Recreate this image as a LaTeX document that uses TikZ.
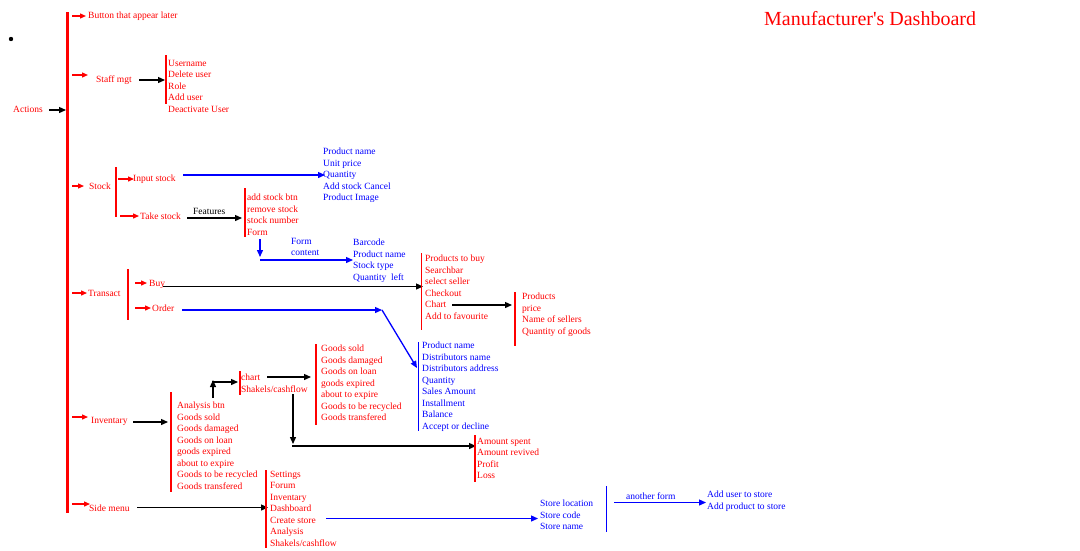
\documentclass[tikz,border=0pt]{standalone}
\usepackage{fontspec}
\setmainfont{Liberation Serif}
\newfontfamily\titlefont{Liberation Serif}
\usetikzlibrary{arrows.meta}
\definecolor{rd}{RGB}{255,0,0}
\definecolor{bl}{RGB}{0,0,255}
\tikzset{
 txt/.style={inner sep=0pt, font=\fontsize{9.5}{11.5}\selectfont, align=left},
 rl/.style={txt, text=rd, anchor=base west},
 bll/.style={txt, text=bl, anchor=base west},
 rblock/.style={txt, text=rd, anchor=north west},
 bblock/.style={txt, text=bl, anchor=north west},
 rbar/.style={draw=rd, line width=1.5pt},
 bbar/.style={draw=bl, line width=1.5pt},
 karr/.style={draw=black, line width=1.3pt, -{Triangle[length=7pt,width=6pt]}},
 rarr/.style={draw=rd, line width=1.3pt, -{Triangle[length=6pt,width=5pt]}},
 barr/.style={draw=bl, line width=1.3pt, -{Triangle[length=7pt,width=6pt]}},
}
\begin{document}
\begin{tikzpicture}[x=1pt,y=-1pt]
\path[use as bounding box, fill=white] (0,0) rectangle (1080,550);

% title
\node[text=rd, font=\titlefont\fontsize{20}{24}\selectfont, inner sep=0pt, anchor=base west] (title) at (764,25) {Manufacturer's Dashboard};
\fill (11,39) circle (2.2);

% main bar
\coordinate (mainT) at (67,12); \coordinate (mainB) at (67,513);
\draw[draw=rd, line width=3pt] (mainT) -- (mainB);

% Actions
\node[rl] (actions) at (13,112.5) {Actions};
\coordinate (actE) at (66,110);
\draw[karr] (49,110) coordinate (actS) -- (actE);

% Button
\coordinate (b1s) at (72,16); \coordinate (b1e) at (86,16);
\draw[rarr] (b1s) -- (b1e);
\node[rl] (button) at (88,18.5) {Button that appear later};

% Staff mgt
\coordinate (s1s) at (72,75); \coordinate (s1e) at (88,75);
\draw[rarr] (s1s) -- (s1e);
\node[rl] (staff) at (96,82.5) {Staff mgt};
\coordinate (st1) at (139,80); \coordinate (st2) at (165,80);
\draw[karr] (st1) -- (st2);
\coordinate (sbT) at (166,55); \coordinate (sbB) at (166,104);
\draw[rbar] (sbT) -- (sbB);
\node[rblock] (stafflist) at (168,60) {Username\\Delete user\\Role\\Add user\\Deactivate User};

% Stock
\coordinate (k1s) at (72,186); \coordinate (k1e) at (84,186);
\draw[rarr] (k1s) -- (k1e);
\node[rl] (stock) at (89,189.5) {Stock};
\coordinate (kbT) at (116,167); \coordinate (kbB) at (116,217);
\draw[rbar] (kbT) -- (kbB);
\coordinate (in1) at (118,179); \coordinate (in2) at (134,179);
\draw[rarr] (in1) -- (in2);
\node[rl] (input) at (133,181.5) {Input stock};
\coordinate (tk1) at (120,216); \coordinate (tk2) at (139,216);
\draw[rarr] (tk1) -- (tk2);
\node[rl] (take) at (140,219.5) {Take stock};
\coordinate (ib1) at (183,175); \coordinate (ib2) at (325,175);
\draw[barr] (ib1) -- (ib2);
\node[bblock] (inputlist) at (323,148) {Product name\\Unit price\\Quantity\\Add stock Cancel\\Product Image};
\coordinate (f1) at (187,218); \coordinate (f2) at (242,218);
\draw[karr] (f1) -- (f2);
\node[anchor=base west, inner sep=0pt, font=\fontsize{9.5}{11.5}\selectfont] (features) at (193,214.5) {Features};
\coordinate (fbT) at (245,188); \coordinate (fbB) at (245,237);
\draw[rbar] (fbT) -- (fbB);
\node[rblock] (featlist) at (247,194) {add stock btn\\remove stock\\stock number\\Form};
\coordinate (d1) at (260,239); \coordinate (d2) at (260,257);
\draw[barr] (d1) -- (d2);
\coordinate (fc1) at (260,260); \coordinate (fc2) at (353,260);
\draw[barr] (fc1) -- (fc2);
\node[bblock] (formcontent) at (291,238) {Form\\content};
\node[bblock] (formlist) at (353,239) {Barcode\\Product name\\Stock type\\Quantity~ left};

% Transact
\coordinate (t1s) at (72,293); \coordinate (t1e) at (87,293);
\draw[rarr] (t1s) -- (t1e);
\node[rl] (transact) at (88,296.5) {Transact};
\coordinate (tbT) at (128,269); \coordinate (tbB) at (128,320);
\draw[rbar] (tbT) -- (tbB);
\coordinate (by1) at (135,283); \coordinate (by2) at (147,283);
\draw[rarr] (by1) -- (by2);
\node[rl] (buy) at (149,286.5) {Buy};
\coordinate (or1) at (135,308); \coordinate (or2) at (151,308);
\draw[rarr] (or1) -- (or2);
\node[rl] (order) at (152,311.5) {Order};
\coordinate (bk1) at (163,286.5); \coordinate (bk2) at (423,286.5);
\draw[karr] (bk1) -- (bk2);
\coordinate (ob1) at (182,310); \coordinate (ob2) at (382,310); \coordinate (ob3) at (417,368);
\draw[barr] (ob1) -- (ob2);
\draw[barr] (ob2) -- (ob3);
\coordinate (bbT) at (421.5,253); \coordinate (bbB) at (421.5,330);
\draw[rbar] (bbT) -- (bbB);
\node[rblock] (buylist) at (425,255) {Products to buy\\Searchbar\\select seller\\Checkout\\Chart\\Add to favourite};
\coordinate (ch1) at (452,305); \coordinate (ch2) at (512,305);
\draw[karr] (ch1) -- (ch2);
\coordinate (cbT) at (515,292); \coordinate (cbB) at (515,346);
\draw[rbar] (cbT) -- (cbB);
\node[rblock] (chartlist) at (522,293) {Products\\price\\Name of sellers\\Quantity of goods};
\coordinate (obT) at (418.5,342); \coordinate (obB) at (418.5,431);
\draw[bbar] (obT) -- (obB);
\node[bblock] (orderlist) at (422,342) {Product name\\Distributors name\\Distributors address\\Quantity\\Sales Amount\\Installment\\Balance\\Accept or decline};

% Inventary
\coordinate (v1s) at (72,417); \coordinate (v1e) at (88,417);
\draw[rarr] (v1s) -- (v1e);
\node[rl] (inventary) at (91,423.5) {Inventary};
\coordinate (va1) at (133,422); \coordinate (va2) at (168,422);
\draw[karr] (va1) -- (va2);
\coordinate (vbT) at (171,392); \coordinate (vbB) at (171,492);
\draw[rbar] (vbT) -- (vbB);
\node[rblock] (invlist) at (177,402) {Analysis btn\\Goods sold\\Goods damaged\\Goods on loan\\goods expired\\about to expire\\Goods to be recycled\\Goods transfered};
\coordinate (up1) at (213,398); \coordinate (up2) at (213,380);
\draw[karr] (up1) -- (up2);
\coordinate (rt1) at (212.4,382); \coordinate (rt2) at (238,382);
\draw[karr] (rt1) -- (rt2);
\coordinate (chbT) at (240,371); \coordinate (chbB) at (240,395);
\draw[rbar] (chbT) -- (chbB);
\node[rblock] (chartcash) at (241,374) {chart\\Shakels/cashflow};
\coordinate (g1) at (267,377); \coordinate (g2) at (311,377);
\draw[karr] (g1) -- (g2);
\coordinate (gbT) at (316,344); \coordinate (gbB) at (316,425);
\draw[rbar] (gbT) -- (gbB);
\node[rblock] (goodslist) at (321,345) {Goods sold\\Goods damaged\\Goods on loan\\goods expired\\about to expire\\Goods to be recycled\\Goods transfered};
\coordinate (dn1) at (293,394); \coordinate (dn2) at (293,444);
\draw[karr] (dn1) -- (dn2);
\coordinate (am1) at (292.4,446); \coordinate (am2) at (476,446);
\draw[karr] (am1) -- (am2);
\coordinate (abT) at (475,435); \coordinate (abB) at (475,482);
\draw[rbar] (abT) -- (abB);
\node[rblock] (amountlist) at (477,438) {Amount spent\\Amount revived\\Profit\\Loss};

% Side menu
\coordinate (m1s) at (72,504); \coordinate (m1e) at (90,504);
\draw[rarr] (m1s) -- (m1e);
\node[rl] (side) at (89,511.5) {Side menu};
\coordinate (sm1) at (137,507.5); \coordinate (sm2) at (268,507.5);
\draw[karr] (sm1) -- (sm2);
\coordinate (smbT) at (266,470); \coordinate (smbB) at (266,548);
\draw[rbar] (smbT) -- (smbB);
\node[rblock] (sidelist) at (270,471) {Settings\\Forum\\Inventary\\Dashboard\\Create store\\Analysis\\Shakels/cashflow};
\coordinate (cs1) at (326,518.5); \coordinate (cs2) at (538,518.5);
\draw[barr] (cs1) -- (cs2);
\node[bblock] (storelist) at (540,500) {Store location\\Store code\\Store name};
\coordinate (stbT) at (606.5,486); \coordinate (stbB) at (606.5,532);
\draw[bbar] (stbT) -- (stbB);
\coordinate (af1) at (614,502.5); \coordinate (af2) at (706,502.5);
\draw[barr] (af1) -- (af2);
\node[bll] (another) at (626,499.5) {another form};
\node[bblock] (addlist) at (707,491) {Add user to store\\Add product to store};
\end{tikzpicture}
\end{document}
